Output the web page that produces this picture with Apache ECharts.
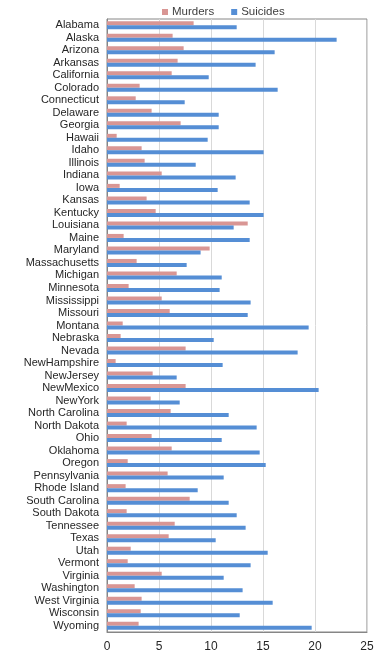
<!DOCTYPE html>
<html>
<head>
<meta charset="utf-8">
<script src="https://cdn.jsdelivr.net/npm/echarts@6/dist/echarts.min.js"></script>
<style>html,body{margin:0;padding:0;background:#fff}#c{width:382px;height:660px}</style>
</head>
<body>
<div id="c"></div>
<script>
var states = ["Alabama","Alaska","Arizona","Arkansas","California","Colorado","Connecticut","Delaware","Georgia","Hawaii","Idaho","Illinois","Indiana","Iowa","Kansas","Kentucky","Louisiana","Maine","Maryland","Massachusetts","Michigan","Minnesota","Mississippi","Missouri","Montana","Nebraska","Nevada","NewHampshire","NewJersey","NewMexico","NewYork","North Carolina","North Dakota","Ohio","Oklahoma","Oregon","Pennsylvania","Rhode Island","South Carolina","South Dakota","Tennessee","Texas","Utah","Vermont","Virginia","Washington","West Virginia","Wisconsin","Wyoming"];
var murders = [8.33,6.31,7.37,6.79,6.22,3.14,2.76,4.29,7.08,0.93,3.33,3.62,5.26,1.22,3.81,4.68,13.53,1.6,9.87,2.85,6.7,2.08,5.26,6.03,1.51,1.31,7.56,0.83,4.39,7.56,4.2,6.12,1.89,4.29,6.22,1.99,5.83,1.79,7.95,1.89,6.51,5.93,2.28,1.99,5.26,2.66,3.33,3.24,3.04];
var suicides = [12.47,22.08,16.12,14.29,9.78,16.41,7.47,10.74,10.74,9.68,15.06,8.53,12.37,10.64,13.72,15.06,12.18,13.72,9.0,7.66,11.03,10.83,13.81,13.53,19.39,10.26,18.33,11.12,6.7,20.35,6.99,11.7,14.39,11.03,14.68,15.26,11.22,8.72,11.7,12.47,13.33,10.45,15.45,13.81,11.22,13.04,15.93,12.76,19.68];
var xTicks = [0,5,10,15,20,25];

var chart = echarts.init(document.getElementById('c'), null, {renderer:'canvas'});
chart.setOption({
  animation:false,
  textStyle:{fontFamily:'Liberation Sans, Arial, sans-serif'},
  legend:{
    top:1, left:157, itemWidth:6, itemHeight:6, itemGap:17, icon:'rect',
    textStyle:{fontSize:11.5, color:'#404040', padding:[0,0,0,-1]},
    data:['Murders','Suicides']
  },
  grid:{left:107, right:15, top:19, bottom:28, show:true, borderColor:'#868686', borderWidth:1},
  xAxis:{
    type:'value', min:xTicks[0], max:xTicks[xTicks.length-1], interval:5,
    axisLine:{show:true, lineStyle:{color:'#868686'}},
    axisTick:{show:false},
    axisLabel:{color:'#262626', fontSize:12, margin:9},
    splitLine:{show:true, lineStyle:{color:'#d9d9d9'}}
  },
  yAxis:{
    type:'category', data:states, inverse:true,
    axisLine:{show:true, lineStyle:{color:'#868686'}},
    axisTick:{show:false},
    axisLabel:{color:'#262626', fontSize:11, margin:8, interval:0}
  },
  series:[
    {name:'Murders', type:'bar', data:murders, barWidth:4, barGap:'0%', itemStyle:{color:'#d99694'}},
    {name:'Suicides', type:'bar', data:suicides, barWidth:4, barGap:'0%', itemStyle:{color:'#558ed5'}}
  ]
});
</script>
</body>
</html>
